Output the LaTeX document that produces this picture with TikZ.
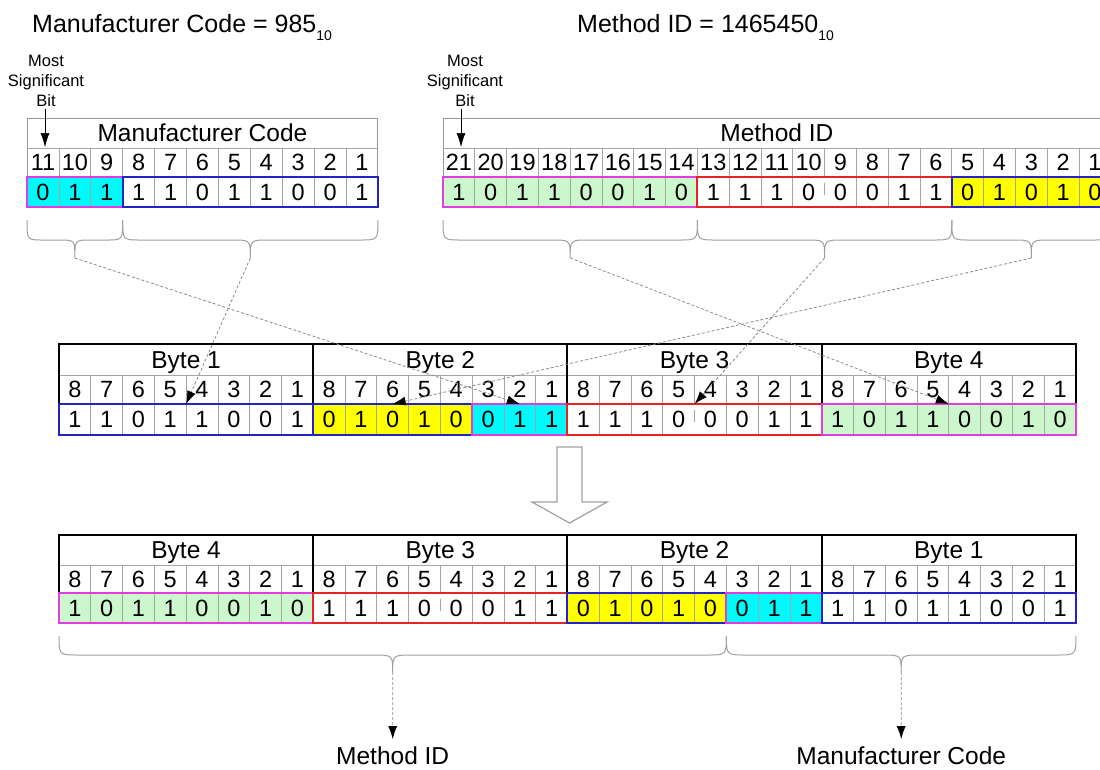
\documentclass[tikz,border=0pt]{standalone}
\usepackage{fontspec}
\setmainfont{Liberation Sans}
\usetikzlibrary{arrows.meta}
\definecolor{gridgray}{RGB}{165,165,165}
\definecolor{bordgray}{RGB}{150,150,150}
\definecolor{fillcyan}{RGB}{0,250,250}
\definecolor{fillyellow}{RGB}{255,255,0}
\definecolor{fillgreen}{RGB}{204,246,204}
\definecolor{linemag}{RGB}{224,60,224}
\definecolor{lineblue}{RGB}{36,36,196}
\definecolor{linered}{RGB}{228,36,36}
\definecolor{bracegray}{RGB}{160,160,160}
\definecolor{dashgray}{RGB}{140,140,140}
\definecolor{arrowgray}{RGB}{160,160,160}

\newcommand{\vgrid}[6]{% x0, w, first, last, ytop, ybot
  \foreach \kk in {#3,...,#4}{\draw[gridline] ({#1+\kk*#2},#5) -- ({#1+\kk*#2},#6);}}
\newcommand{\rowtext}[5]{% x0, w, ycenter, list, name prefix
  \foreach \bv [count=\kk from 0] in {#4}{\node[celltxt] (#5\kk) at ({#1+(\kk+0.5)*#2},#3) {\bv};}}
\newcommand{\curly}[7]{% x1, x2, ytop, yh, ytip, r, name
  \pgfmathsetmacro\xmid{(#1+#2)/2}
  \draw[bracestyle] (#1,#3) .. controls (#1,#4) .. ({#1+#6},#4) -- ({\xmid-#6},#4)
     .. controls (\xmid,#4) .. (\xmid,#5) .. controls (\xmid,#4) .. ({\xmid+#6},#4)
     -- ({#2-#6},#4) .. controls (#2,#4) .. (#2,#3);
  \coordinate (#7) at (\xmid,#5);}

\begin{document}
\begin{tikzpicture}[x=1pt,y=-1pt,
  gridline/.style={draw=gridgray, line width=0.8pt},
  tborder/.style={draw=bordgray, line width=1pt},
  blackline/.style={draw=black, line width=2pt},
  grpline/.style={line width=2pt},
  celltxt/.style={font=\fontsize{23.5}{28}\selectfont, inner sep=0pt, text height=16.8pt, text depth=0pt},
  hdrtxt/.style={font=\fontsize{24.5}{28}\selectfont, inner sep=0pt, text height=17.5pt, text depth=0pt},
  smalltxt/.style={font=\fontsize{16.5}{20}\selectfont, inner sep=0pt, anchor=base},
  titletxt/.style={font=\fontsize{25}{30}\selectfont, inner sep=0pt, anchor=base west},
  labtxt/.style={font=\fontsize{24.5}{28}\selectfont, inner sep=0pt, text height=17.5pt, text depth=0pt},
  dasharrow/.style={draw=dashgray, dash pattern=on 3pt off 2pt, line width=0.8pt, -{Latex[length=13pt,width=9pt,color=black]}},
  msbarrow/.style={draw=black, line width=0.7pt, -{Latex[length=14pt,width=9pt]}},
  bracestyle/.style={draw=bracegray, line width=1pt},
  bigarrow/.style={draw=arrowgray, line width=1.2pt, fill=white, line join=miter}
]
\useasboundingbox (0,0) rectangle (1100,769);
\clip (0,0) rectangle (1100,769);
\fill[white] (0,0) rectangle (1100,769);

% ---------- titles ----------
\node[titletxt] (title1) at (32,32) {Manufacturer Code = 985\raisebox{-8pt}{\fontsize{14}{14}\selectfont 10}};
\node[titletxt] (title2) at (577,32) {Method ID = 1465450\raisebox{-8pt}{\fontsize{14}{14}\selectfont 10}};

% ---------- MSB labels ----------
\node[smalltxt] (msbL1) at (46,66) {Most};
\node[smalltxt] (msbL2) at (46,86) {Significant};
\node[smalltxt] (msbL3) at (46,106) {Bit};
\node[smalltxt] (msbR1) at (465,66) {Most};
\node[smalltxt] (msbR2) at (465,86) {Significant};
\node[smalltxt] (msbR3) at (465,106) {Bit};
\coordinate (msbLa) at (45,109);
\coordinate (msbLb) at (45,147);
\coordinate (msbRa) at (461,109);
\coordinate (msbRb) at (461,147);

% ---------- top-left table: Manufacturer Code ----------
\fill[fillcyan] (27,177) rectangle (122.7,207);
\draw[tborder] (27,118) rectangle (377.9,177);
\draw[gridline] (27,148) -- (377.9,148);
\vgrid{27}{31.9}{1}{10}{148}{207}
\draw[grpline,linemag] (27,177) rectangle (122.7,207);
\draw[grpline,lineblue] (122.7,177) rectangle (377.9,207);
\node[hdrtxt] (hdrMC) at (202.45,133) {Manufacturer Code};
\rowtext{27}{31.9}{162.5}{11,10,9,8,7,6,5,4,3,2,1}{mcn}
\rowtext{27}{31.9}{192}{0,1,1,1,1,0,1,1,0,0,1}{mcd}

% ---------- top-right table: Method ID ----------
\fill[fillgreen] (443,177) rectangle (697.4,207);
\fill[fillyellow] (951.8,177) rectangle (1110.8,207);
\draw[tborder] (443,118) rectangle (1110.8,177);
\draw[gridline] (443,148) -- (1110.8,148);
\vgrid{443}{31.8}{1}{20}{148}{177}
\vgrid{443}{31.8}{1}{11}{177}{207}
\vgrid{443}{31.8}{13}{20}{177}{207}
\draw[gridline] (824.6,183) -- (824.6,195);
\draw[grpline,linemag] (443,177) rectangle (697.4,207);
\draw[grpline,linered] (697.4,177) rectangle (951.8,207);
\draw[grpline,lineblue] (951.8,177) rectangle (1110.8,207);
\node[hdrtxt] (hdrMI) at (776.9,133) {Method ID};
\rowtext{443}{31.8}{162.5}{21,20,19,18,17,16,15,14,13,12,11,10,9,8,7,6,5,4,3,2,1}{min}
\rowtext{443}{31.8}{192}{1,0,1,1,0,0,1,0,1,1,1,0,0,0,1,1,0,1,0,1,0}{mid}

% ---------- MSB arrows ----------
\draw[msbarrow] (msbLa) -- (msbLb);
\draw[msbarrow] (msbRa) -- (msbRb);

% ---------- top braces ----------
\curly{27}{122.7}{220}{240}{258}{16}{mcA}
\curly{122.7}{377.9}{220}{240}{258}{18}{mcB}
\curly{443}{697.4}{220}{240}{258}{18}{miA}
\curly{697.4}{951.8}{220}{240}{258}{18}{miB}
\curly{951.8}{1110.8}{220}{240}{258}{18}{miC}

% ---------- middle table ----------
\fill[fillyellow] (313.24,404) rectangle (472.14,435);
\fill[fillcyan] (472.14,404) rectangle (567.48,435);
\fill[fillgreen] (821.72,404) rectangle (1075.96,435);
\draw[gridline] (59,375) -- (1075.96,375);
\vgrid{59}{31.78}{1}{31}{375}{404}
\vgrid{59}{31.78}{1}{19}{404}{435}
\vgrid{59}{31.78}{21}{31}{404}{435}
\draw[gridline] (694.6,410) -- (694.6,422);
\draw[blackline] (59,404) -- (59,344) -- (1075.96,344) -- (1075.96,404);
\draw[blackline] (313.24,344) -- (313.24,404);
\draw[blackline] (567.48,344) -- (567.48,404);
\draw[blackline] (821.72,344) -- (821.72,404);
\draw[grpline,lineblue] (59,404) rectangle (313.24,435);
\draw[grpline,lineblue] (313.24,404) rectangle (472.14,435);
\draw[grpline,linemag] (472.14,404) rectangle (567.48,435);
\draw[grpline,linered] (567.48,404) rectangle (821.72,435);
\draw[grpline,linemag] (821.72,404) rectangle (1075.96,435);
\node[hdrtxt] (mB1) at (186.12,359.5) {Byte 1};
\node[hdrtxt] (mB2) at (440.36,359.5) {Byte 2};
\node[hdrtxt] (mB3) at (694.6,359.5) {Byte 3};
\node[hdrtxt] (mB4) at (948.84,359.5) {Byte 4};
\rowtext{59}{31.78}{389.5}{8,7,6,5,4,3,2,1,8,7,6,5,4,3,2,1,8,7,6,5,4,3,2,1,8,7,6,5,4,3,2,1}{mn}
\rowtext{59}{31.78}{419.5}{1,1,0,1,1,0,0,1,0,1,0,1,0,0,1,1,1,1,1,0,0,0,1,1,1,0,1,1,0,0,1,0}{md}

% ---------- arrow targets ----------
\coordinate (tB1) at (186.12,404);
\coordinate (tB2y) at (392.72,404);
\coordinate (tB2c) at (519.81,404);
\coordinate (tB3) at (694.6,404);
\coordinate (tB4) at (948.84,404);
\draw[dasharrow] (mcA) -- (tB2c);
\draw[dasharrow] (mcB) -- (tB1);
\draw[dasharrow] (miA) -- (tB4);
\draw[dasharrow] (miB) -- (tB3);
\draw[dasharrow] (miC) -- (tB2y);

% ---------- big hollow arrow ----------
\draw[bigarrow] (557,447) -- (582,447) -- (582,502) -- (607,502) -- (569.5,523) -- (532,502) -- (557,502) -- cycle;

% ---------- bottom table ----------
\fill[fillgreen] (59,593) rectangle (313.24,623);
\fill[fillyellow] (567.48,593) rectangle (726.38,623);
\fill[fillcyan] (726.38,593) rectangle (821.72,623);
\draw[gridline] (59,565) -- (1075.96,565);
\vgrid{59}{31.78}{1}{31}{565}{593}
\vgrid{59}{31.78}{1}{11}{593}{623}
\vgrid{59}{31.78}{13}{31}{593}{623}
\draw[gridline] (440.36,599) -- (440.36,611);
\draw[blackline] (59,593) -- (59,535) -- (1075.96,535) -- (1075.96,593);
\draw[blackline] (313.24,535) -- (313.24,593);
\draw[blackline] (567.48,535) -- (567.48,593);
\draw[blackline] (821.72,535) -- (821.72,593);
\draw[grpline,linemag] (59,593) rectangle (313.24,623);
\draw[grpline,linered] (313.24,593) rectangle (567.48,623);
\draw[grpline,lineblue] (567.48,593) rectangle (726.38,623);
\draw[grpline,linemag] (726.38,593) rectangle (821.72,623);
\draw[grpline,lineblue] (821.72,593) rectangle (1075.96,623);
\node[hdrtxt] (bB4) at (186.12,550) {Byte 4};
\node[hdrtxt] (bB3) at (440.36,550) {Byte 3};
\node[hdrtxt] (bB2) at (694.6,550) {Byte 2};
\node[hdrtxt] (bB1) at (948.84,550) {Byte 1};
\rowtext{59}{31.78}{579}{8,7,6,5,4,3,2,1,8,7,6,5,4,3,2,1,8,7,6,5,4,3,2,1,8,7,6,5,4,3,2,1}{bn}
\rowtext{59}{31.78}{608}{1,0,1,1,0,0,1,0,1,1,1,0,0,0,1,1,0,1,0,1,0,0,1,1,1,1,0,1,1,0,0,1}{bd}

% ---------- bottom braces and labels ----------
\curly{59}{726.38}{636}{655}{672}{20}{bmA}
\curly{726.38}{1075.96}{636}{655}{672}{20}{bmB}
\node[labtxt] (lblMI) at (392.7,756) {Method ID};
\node[labtxt] (lblMC) at (901.2,756) {Manufacturer Code};
\draw[dasharrow] (bmA) -- ([yshift=8pt]lblMI.north);
\draw[dasharrow] (bmB) -- ([yshift=8pt]lblMC.north);
\end{tikzpicture}
\end{document}
